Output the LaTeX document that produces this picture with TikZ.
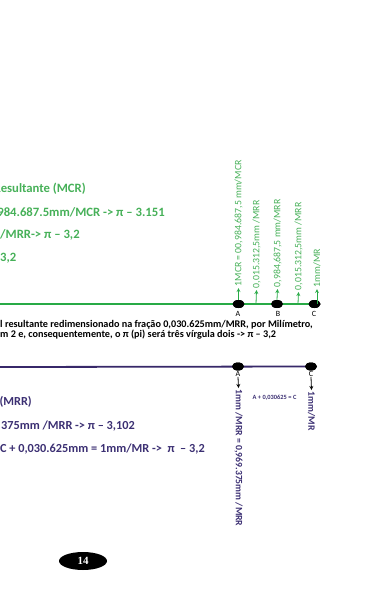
\documentclass[tikz,border=0pt]{standalone}
\usepackage{fontspec}
\setmainfont{Carlito}
\newfontfamily\pagefont{Liberation Serif}
\usetikzlibrary{shapes.geometric}

\definecolor{linegreen}{RGB}{40,170,70}
\definecolor{textgreen}{RGB}{70,176,88}
\definecolor{navyline}{RGB}{55,40,105}
\definecolor{navytext}{RGB}{60,48,115}

\tikzset{
  dot/.style={fill=black, ellipse, minimum width=12pt, minimum height=8pt, inner sep=0pt},
  ptlabel/.style={font=\fontsize{8}{9}\selectfont, inner sep=0pt},
  greenlbl/.style={rotate=90, anchor=west, inner sep=1.5pt, text=textgreen, font=\fontsize{9.8}{11}\selectfont},
  navylbl/.style={rotate=-90, anchor=west, inner sep=1.5pt, text=navytext, font=\bfseries\fontsize{9.7}{11}\selectfont},
  greentext/.style={text=textgreen, inner sep=0pt, font=\bfseries\fontsize{12.7}{15}\selectfont},
  navytextstyle/.style={text=navytext, inner sep=0pt, font=\bfseries\fontsize{12.3}{14}\selectfont},
  bodytext/.style={inner sep=0pt, font=\bfseries\fontsize{10.2}{12}\selectfont}
}

\begin{document}
\begin{tikzpicture}[x=1pt, y=-1pt, >=stealth]
  \useasboundingbox (0,0) rectangle (375,595);
  \clip (0,0) rectangle (375,595);

  % green scale
  \node[dot] (gA) at (238.5,304) {};
  \node[dot] (gB) at (277,304) {};
  \node[dot] (gC) at (314.5,304) {};
  \draw[linegreen, line width=1.8pt] (0,304) -- (gC.center);
  \node[dot] at (gA) {};
  \node[dot] at (gB) {};
  \node[dot] at (gC) {};
  \node[ptlabel] (gAl) at (238,314) {A};
  \node[ptlabel] (gBl) at (278,314) {B};
  \node[ptlabel] (gCl) at (314,314) {C};

  \coordinate (q1) at (256,304);
  \coordinate (q2) at (298,304);
  \coordinate (q3) at (317,304);
  \node[greenlbl] (mcr) at (238.5,288) {1MCR = 00,984.687,5 mm/MCR};
  \node[greenlbl] (frA) at (256.5,290) {0,015.312,5mm /MRR};
  \node[greenlbl] (mrr) at (277.5,289) {0,984,687,5 mm/MRR};
  \node[greenlbl] (frB) at (298.5,292) {0,015.312,5mm /MRR};
  \node[greenlbl] (mr) at (317,289) {1mm/MR};
  \draw[->, linegreen, line width=0.8pt] (gA.north) -- (mcr.west);
  \draw[->, linegreen, line width=0.8pt] (q1) -- (frA.west);
  \draw[->, linegreen, line width=0.8pt] (gB.north) -- (mrr.west);
  \draw[->, linegreen, line width=0.8pt] (q2) -- (frB.west);
  \draw[->, linegreen, line width=0.8pt] (q3) -- (mr.west);

  \node[greentext, anchor=east] (g1) at (86,189) {Resultante (MCR)};
  \node[greentext, anchor=east] (g2) at (165,212) {0984.687.5mm/MCR -> π – 3.151};
  \node[greentext, anchor=west] (g3) at (0,235) {/MRR-> π – 3,2};
  \node[greentext, anchor=west] (g4) at (0,258) {3,2};

  \node[bodytext, anchor=west] (b1) at (0,325) {l resultante redimensionado na fração 0,030.625mm/MRR, por Milímetro,};
  \node[bodytext, anchor=west] (b2) at (0,335) {m 2 e, consequentemente, o π (pi) será três vírgula dois -> π – 3,2};

  % navy scale
  \node[dot] (pA) at (238,366.5) {};
  \node[dot] (pC) at (311,366.5) {};
  \draw[navyline, line width=1.8pt] (0,367) -- (pC.center);
  \node[dot] at (pA) {};
  \node[dot] at (pC) {};
  \node[ptlabel] (pAl) at (238,374) {A};
  \node[ptlabel] (pCl) at (311,374) {C};
  \node[navylbl] (mrrA) at (238.5,388) {1mm /MRR = 0,969.375mm /MRR};
  \node[navylbl] (mrC) at (311.5,390) {1mm/MR};
  \draw[->, line width=0.8pt] (pAl.south) -- (mrrA.west);
  \draw[->, line width=0.8pt] (pCl.south) -- (mrC.west);
  \node[text=navytext, font=\bfseries\fontsize{6.4}{7}\selectfont, inner sep=0pt] (sum) at (274.5,398) {A + 0,030625 = C};

  \node[navytextstyle, anchor=east] (n1) at (32,402) {(MRR)};
  \node[navytextstyle, anchor=east] (n2) at (135,426) {375mm /MRR -> π – 3,102};
  \node[navytextstyle, anchor=east] (n3) at (205,449) {C + 0,030.625mm = 1mm/MR ->~~π~~– 3,2};

  % page number
  \node[fill=black, ellipse, minimum width=48pt, minimum height=18pt, inner sep=0pt, text=white,
        font=\pagefont\bfseries\fontsize{11}{12}\selectfont] (pagenum) at (83,561) {14};
\end{tikzpicture}
\end{document}
